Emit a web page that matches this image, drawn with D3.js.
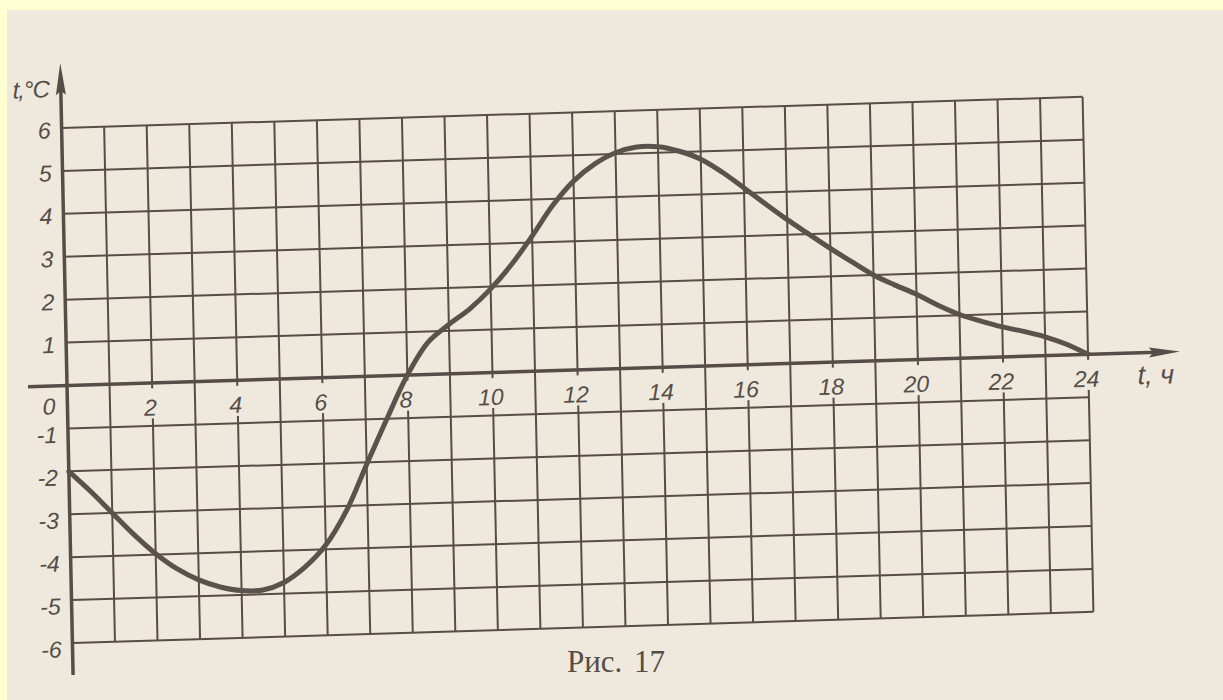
<!DOCTYPE html>
<html>
<head>
<meta charset="utf-8">
<script src="https://cdn.jsdelivr.net/npm/d3@7"></script>
<style>
    html, body { margin: 0; padding: 0; background: #eee7db; }
    svg { display: block; }
</style>
</head>
<body>
<div id="chart"></div>
<script>
// Air temperature over a day (hours -> degrees C)
const hours = [0, 0.5, 1, 1.5, 2, 2.5, 3, 3.5, 4, 4.5, 5, 5.5, 6, 6.5, 7, 7.5, 8, 8.5, 9, 9.5,
    10, 10.5, 11, 11.5, 12, 12.5, 13, 13.5, 14, 14.5, 15, 15.5, 16, 16.5, 17, 17.5, 18, 18.5, 19, 19.5,
    20, 20.5, 21, 21.5, 22, 22.5, 23, 23.5, 24];
const temps = [-2, -2.48, -3, -3.52, -3.98, -4.35, -4.62, -4.8, -4.9, -4.9, -4.74, -4.4, -3.9, -3.12, -2.05, -1, 0, 0.75, 1.15, 1.5,
    1.95, 2.5, 3.15, 3.85, 4.4, 4.78, 5.03, 5.15, 5.14, 5.02, 4.82, 4.5, 4.12, 3.73, 3.35, 3.0, 2.65, 2.32, 2.0, 1.75,
    1.52, 1.25, 1.02, 0.85, 0.7, 0.58, 0.44, 0.25, 0];

const xTickLabels = [2, 4, 6, 8, 10, 12, 14, 16, 18, 20, 22, 24];
const yTickLabels = [-6, -5, -4, -3, -2, -1, 1, 2, 3, 4, 5, 6];
const xTitle = "t, ч";
const yTitle = "t,°C";
const caption = "Рис. 17";

const viewW = 1223;
const viewH = 700;

// Colours of the scanned page
const paper = "#efe8dc";
const ink = "#554d47";
const frame = "#ffffd2";

const svg = d3.select("#chart")
    .append("svg")
    .attr("width", viewW)
    .attr("height", viewH)
    .attr("viewBox", `0 0 ${viewW} ${viewH}`);

svg.append("rect").attr("width", viewW).attr("height", viewH).attr("fill", paper);
svg.append("rect").attr("width", viewW).attr("height", 10).attr("fill", frame);
svg.append("rect").attr("width", 7).attr("height", viewH).attr("fill", frame);

// The scan is a bit tilted, so the plot sits in a slightly skewed group
const g = svg.append("g")
    .attr("transform", "matrix(1,-0.0305,0.021,1,67,385)");

// Scales
const xScale = d3.scaleLinear().domain([0, 24]).range([0, 1021]);
const yScale = d3.scaleLinear().domain([-6, 6]).range([258, -257]);

// Grid
g.append("g")
    .selectAll("line")
    .data(xScale.ticks(24).filter(d => d > 0))
    .join("line")
    .attr("x1", d => xScale(d))
    .attr("x2", d => xScale(d))
    .attr("y1", yScale(6))
    .attr("y2", yScale(-6))
    .attr("stroke", ink)
    .attr("stroke-width", 2);

g.append("g")
    .selectAll("line")
    .data(yScale.ticks(12).filter(d => d !== 0))
    .join("line")
    .attr("x1", xScale(0))
    .attr("x2", xScale(24))
    .attr("y1", d => yScale(d))
    .attr("y2", d => yScale(d))
    .attr("stroke", ink)
    .attr("stroke-width", 2);

// Gaps in the grid behind the hour labels
g.append("g")
    .selectAll("rect")
    .data(xTickLabels)
    .join("rect")
    .attr("x", d => xScale(d) - (d >= 10 ? 20 : 12))
    .attr("y", 6)
    .attr("width", d => d >= 10 ? 40 : 24)
    .attr("height", 30)
    .attr("fill", paper);

// Axes with arrows
g.append("line")
    .attr("x1", -39).attr("x2", 1090)
    .attr("y1", yScale(0)).attr("y2", yScale(0))
    .attr("stroke", ink).attr("stroke-width", 3.5);

g.append("path")
    .attr("d", `M1113,${yScale(0)} L1082,${yScale(0) - 5} L1086,${yScale(0)} L1082,${yScale(0) + 5} Z`)
    .attr("fill", ink);

g.append("line")
    .attr("x1", xScale(0)).attr("x2", xScale(0))
    .attr("y1", 290).attr("y2", -296)
    .attr("stroke", ink).attr("stroke-width", 3.5);

g.append("path")
    .attr("d", `M${xScale(0)},-322 L${xScale(0) - 5},-290 L${xScale(0)},-294 L${xScale(0) + 5},-290 Z`)
    .attr("fill", ink);

// Tick labels
const labelFont = "'Liberation Sans', 'DejaVu Sans', sans-serif";

g.append("g")
    .selectAll("text")
    .data(xTickLabels)
    .join("text")
    .attr("x", d => xScale(d) - 2)
    .attr("y", 33)
    .attr("text-anchor", "middle")
    .attr("font-family", labelFont)
    .attr("font-style", "italic")
    .attr("font-size", 23)
    .attr("fill", ink)
    .text(d => d);

g.append("g")
    .selectAll("text")
    .data(yTickLabels)
    .join("text")
    .attr("x", -11)
    .attr("y", d => yScale(d) + (d < 0 ? 14 : 10))
    .attr("text-anchor", "end")
    .attr("font-family", labelFont)
    .attr("font-style", "italic")
    .attr("font-size", 23)
    .attr("fill", ink)
    .text(d => d < 0 ? "-" + Math.abs(d) : d);

g.append("text")
    .attr("x", -12)
    .attr("y", 29)
    .attr("text-anchor", "end")
    .attr("font-family", labelFont)
    .attr("font-style", "italic")
    .attr("font-size", 23)
    .attr("fill", ink)
    .text("0");

// Axis titles
g.append("text")
    .attr("x", 1070)
    .attr("y", 32)
    .attr("font-family", labelFont)
    .attr("font-style", "italic")
    .attr("font-size", 27)
    .attr("fill", ink)
    .text(xTitle);

g.append("text")
    .attr("x", -12)
    .attr("y", -288)
    .attr("text-anchor", "end")
    .attr("font-family", labelFont)
    .attr("font-style", "italic")
    .attr("font-size", 24)
    .attr("letter-spacing", -1)
    .attr("fill", ink)
    .text(yTitle);

// Temperature curve
const line = d3.line()
    .x((d, i) => xScale(hours[i]))
    .y(d => yScale(d))
    .curve(d3.curveCatmullRom.alpha(0.5));

g.append("path")
    .attr("d", line(temps))
    .attr("fill", "none")
    .attr("stroke", "#5a534d")
    .attr("stroke-width", 5)
    .attr("stroke-linecap", "round")
    .attr("stroke-linejoin", "round");

// Caption
svg.append("text")
    .attr("x", 616)
    .attr("y", 672)
    .attr("text-anchor", "middle")
    .attr("font-family", "'Liberation Serif', 'DejaVu Serif', serif")
    .attr("font-size", 31)
    .attr("word-spacing", 4)
    .attr("fill", ink)
    .text(caption);
</script>
</body>
</html>
